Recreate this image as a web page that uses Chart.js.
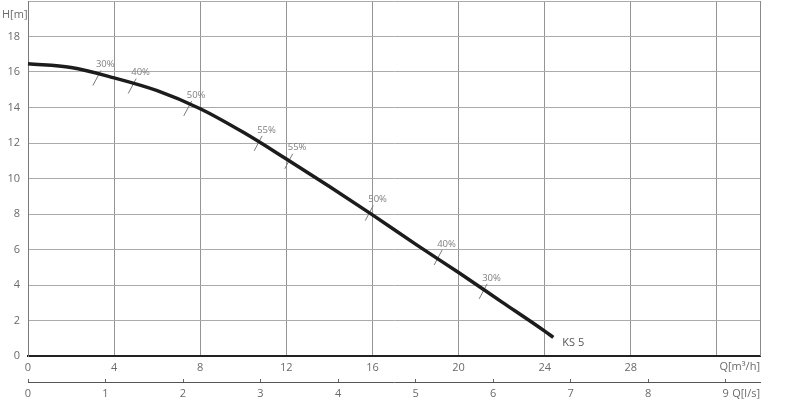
<!DOCTYPE html>
<html>
<head>
<meta charset="utf-8">
<script src="https://cdn.jsdelivr.net/npm/chart.js@4/dist/chart.umd.min.js"></script>
<style>
html,body{margin:0;padding:0;background:#fff;}
#wrap{width:800px;height:401px;position:relative;}
</style>
</head>
<body>
<div id="wrap"><canvas id="c" width="800" height="401"></canvas></div>
<script>
// ---- data ----
const flowQ = [0, 2, 4, 6, 8, 10, 12, 14, 16, 18, 20, 22, 24, 24.4];          // Q [m³/h]
const headH = [16.46, 16.25, 15.67, 14.95, 13.93, 12.6, 11.1, 9.55, 7.95, 6.3, 4.7, 3.05, 1.4, 1.05]; // H [m]
const effQ = [3.2, 4.84, 7.42, 10.69, 12.11, 15.85, 19.05, 21.14];
const effH = [15.66, 15.21, 13.95, 11.98, 10.97, 8.05, 5.55, 3.64];
const effLabels = ['30%', '40%', '50%', '55%', '55%', '50%', '40%', '30%'];
const curveName = 'KS 5';
const xTitle = 'Q[m³/h]';
const x2Title = 'Q[l/s]';
const yTitle = 'H[m]';
const qMaxM3h = 34;
const hMax = 20;
const m3hPerLs = 3.6;

const FONT = 'Open Sans, Liberation Sans, sans-serif';
const TXT = '#6a6a6a';

const curveData = flowQ.map((q, i) => ({x: q, y: headH[i]}));
const effData = effQ.map((q, i) => ({x: q, y: effH[i]}));

const textPlugin = {
  id: 'texts',
  beforeDatasetsDraw(chart) {
    const {ctx, chartArea} = chart;
    ctx.save();
    ctx.strokeStyle = '#8a8a8a';
    ctx.lineWidth = 1;
    ctx.beginPath();
    ctx.moveTo(Math.round(chartArea.right) + 0.5, chartArea.top);
    ctx.lineTo(Math.round(chartArea.right) + 0.5, chartArea.bottom);
    ctx.stroke();
    ctx.restore();
  },
  afterDatasetsDraw(chart) {
    const {ctx, chartArea} = chart;
    ctx.save();
    const meta = chart.getDatasetMeta(1);
    ctx.font = '9.5px ' + FONT;
    ctx.fillStyle = '#808080';
    ctx.textAlign = 'left';
    ctx.textBaseline = 'middle';
    meta.data.forEach((pt, i) => {
      ctx.fillText(effLabels[i], pt.x - 1, pt.y - 13.5);
    });
    const cm = chart.getDatasetMeta(0);
    const last = cm.data[cm.data.length - 1];
    ctx.font = '11px ' + FONT;
    ctx.fillStyle = '#555';
    ctx.fillText(curveName, last.x + 9, last.y + 5);
    ctx.fillStyle = TXT;
    ctx.textAlign = 'right';
    ctx.fillText(xTitle, chartArea.right, chart.scales.x.top + 11);
    ctx.fillText(x2Title, chartArea.right, chart.scales.x2.top + 11.5);
    ctx.textAlign = 'left';
    ctx.fillText(yTitle, 2, 15);
    ctx.restore();
  }
};

new Chart(document.getElementById('c'), {
  data: {
    datasets: [
      {
        type: 'line',
        data: curveData,
        borderColor: '#1c1c1c',
        borderWidth: 3.5,
        borderCapStyle: 'butt',
        pointRadius: 0,
        cubicInterpolationMode: 'monotone',
        fill: false,
        clip: false,
        xAxisID: 'x', yAxisID: 'y'
      },
      {
        type: 'scatter',
        data: effData,
        pointStyle: 'line',
        rotation: -62,
        radius: 8.5,
        pointRadius: 8.5,
        borderColor: '#7a7a7a',
        borderWidth: 1,
        pointBorderWidth: 1,
        clip: false,
        xAxisID: 'x', yAxisID: 'y'
      }
    ]
  },
  options: {
    responsive: false,
    animation: false,
    devicePixelRatio: 1,
    layout: {autoPadding: false, padding: {top: 1, right: 40, left: 0, bottom: 0}},
    plugins: {legend: {display: false}, tooltip: {enabled: false}},
    scales: {
      x: {
        type: 'linear', position: 'bottom', weight: 0,
        min: 0, max: qMaxM3h,
        grid: {color: '#949494', lineWidth: 1, drawTicks: false},
        border: {color: '#222', width: 2},
        ticks: {
          stepSize: 4, includeBounds: false, padding: 5,
          color: TXT, font: {family: FONT, size: 11},
          maxRotation: 0,
          callback: v => (v === 32 ? '' : v)
        },
        afterFit: s => { s.height = 26; }
      },
      x2: {
        type: 'linear', position: 'bottom', weight: 1,
        min: 0, max: qMaxM3h / m3hPerLs,
        grid: {drawOnChartArea: false, drawTicks: true, tickLength: -3, color: '#666'},
        border: {color: '#555', width: 1},
        ticks: {
          stepSize: 1, includeBounds: false, padding: 8,
          color: TXT, font: {family: FONT, size: 11},
          maxRotation: 0, autoSkip: false
        },
        afterFit: s => { s.height = 19; }
      },
      y: {
        type: 'linear', position: 'left',
        min: 0, max: hMax,
        grid: {color: '#ababab', lineWidth: 1, drawTicks: false},
        border: {color: '#7a7a7a', width: 1},
        ticks: {
          stepSize: 2, padding: 8,
          color: TXT, font: {family: FONT, size: 11},
          callback: v => (v === hMax ? '' : v)
        },
        afterFit: s => { s.width = 28; s.paddingTop = 0; s.paddingBottom = 0; }
      }
    }
  },
  plugins: [textPlugin]
});
</script>
</body>
</html>
